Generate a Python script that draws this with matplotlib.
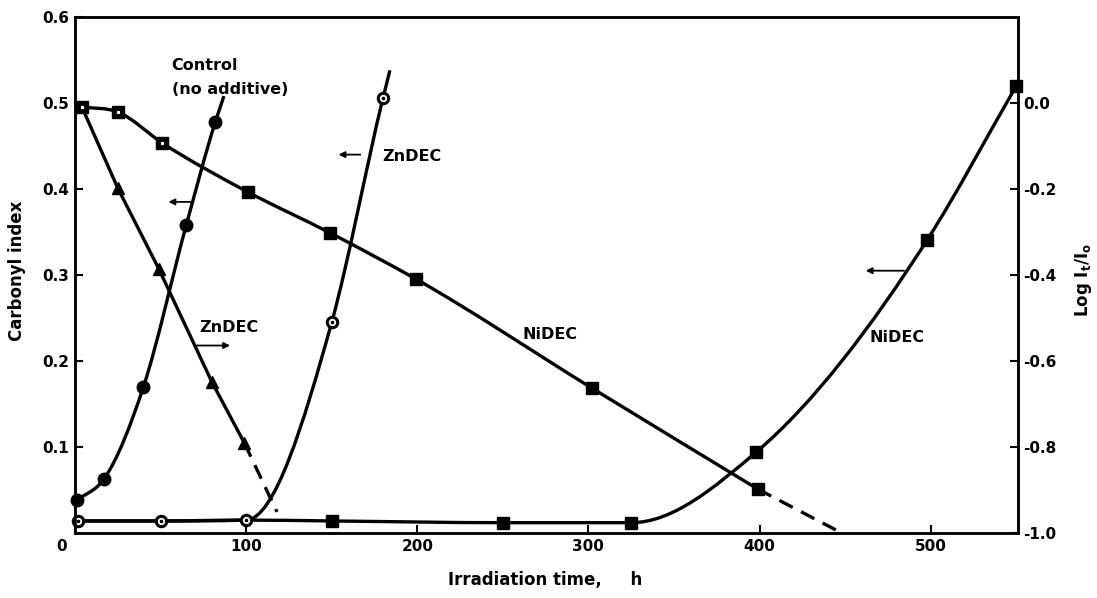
import numpy as np
import matplotlib
matplotlib.use("Agg")
import matplotlib.pyplot as plt
from matplotlib.path import Path
from matplotlib.patches import PathPatch
from matplotlib.transforms import ScaledTranslation

# ---------------- data ----------------
# Carbonyl index (left axis)
control_h = [1, 17, 40, 65, 82]
control_ci = [0.038, 0.063, 0.170, 0.358, 0.478]
control_tail_h = [87]
control_tail_ci = [0.508]

zndec_ci_h = [2, 50, 100, 150, 180]
zndec_ci = [0.014, 0.014, 0.015, 0.245, 0.506]
zndec_tail_h = [184]
zndec_tail_ci = [0.538]

nidec_ci_h = [2, 50, 100, 150, 250, 325, 398, 498, 550]
nidec_ci = [0.014, 0.014, 0.015, 0.014, 0.012, 0.012, 0.094, 0.341, 0.520]

# Log It/Io (right axis)
zndec_log_h = [4, 25, 49, 80, 99]
zndec_log = [-0.009, -0.198, -0.386, -0.649, -0.791]
zndec_extrap_h = [99, 118]
zndec_extrap = [-0.791, -0.951]

nidec_log_h = [4, 25, 51, 101, 149, 199, 302, 399]
nidec_log = [-0.009, -0.021, -0.093, -0.207, -0.302, -0.409, -0.663, -0.898]
nidec_extrap_h = [399, 448]
nidec_extrap = [-0.898, -1.0]

x_ticks = [0, 100, 200, 300, 400, 500]
left_ticks = [0.1, 0.2, 0.3, 0.4, 0.5, 0.6]
left_labels = ["0.1", "0.2", "0.3", "0.4", "0.5", "0.6"]
right_ticks = [0.0, -0.2, -0.4, -0.6, -0.8, -1.0]
right_labels = ["0.0", "-0.2", "-0.4", "-0.6", "-0.8", "-1.0"]

# ---------------- helpers ----------------
def smooth_path(x, y):
    x = np.asarray(x, float)
    y = np.asarray(y, float)
    n = len(x)
    h = np.diff(x)
    d = np.diff(y) / h
    m = np.zeros(n)
    for k in range(1, n - 1):
        if d[k - 1] * d[k] > 0:
            mk = (d[k - 1] * h[k] + d[k] * h[k - 1]) / (h[k - 1] + h[k])
            lim = 3 * min(abs(d[k - 1]), abs(d[k]))
            m[k] = np.sign(mk) * min(abs(mk), lim)
    m[0] = d[0]
    m[-1] = d[-1]
    verts = [(x[0], y[0])]
    codes = [Path.MOVETO]
    for i in range(n - 1):
        dx = x[i + 1] - x[i]
        verts += [(x[i] + dx / 3, y[i] + m[i] * dx / 3),
                  (x[i + 1] - dx / 3, y[i + 1] - m[i + 1] * dx / 3),
                  (x[i + 1], y[i + 1])]
        codes += [Path.CURVE4] * 3
    return Path(verts, codes)


def draw_curve(axis, x, y, lw=2.4, **kw):
    p = PathPatch(smooth_path(x, y), transform=axis.transData, fill=False,
                  lw=lw, ec="black", capstyle="butt", joinstyle="round", **kw)
    axis.add_patch(p)

# ---------------- figure ----------------
plt.rcParams["font.family"] = ["DejaVu Sans"]
plt.rcParams["mathtext.fontset"] = "dejavusans"

fig = plt.figure(figsize=(10.97, 5.98), dpi=100)
ax = fig.add_axes([0.06837, 0.10870, 0.85962, 0.86287])
ax2 = ax.twinx()

ax.set_xlim(0, 551)
ax.set_ylim(0, 0.6)
ax2.set_ylim(-1.0, 0.2)

for a in (ax, ax2):
    for s in a.spines.values():
        s.set_linewidth(1.8)

ax.set_xticks(x_ticks)
ax.set_xticklabels([str(t) for t in x_ticks])
ax.set_yticks(left_ticks)
ax.set_yticklabels(left_labels)
ax2.set_yticks(right_ticks)
ax2.set_yticklabels(right_labels)
ax.tick_params(direction="in", length=6, width=1.5, labelsize=11, pad=4)
ax2.tick_params(direction="in", length=6, width=1.5, labelsize=11, pad=4)
for lab in ax.get_xticklabels() + ax.get_yticklabels() + ax2.get_yticklabels():
    lab.set_fontweight("bold")
ax.get_xticklabels()[0].set_transform(
    ax.get_xticklabels()[0].get_transform()
    + ScaledTranslation(-10 / 72, 0, fig.dpi_scale_trans))

# ---- carbonyl index curves (left axis) ----
draw_curve(ax, control_h + control_tail_h, control_ci + control_tail_ci)
ax.plot(control_h, control_ci, ls="none", marker="o", ms=9, mfc="black",
        mec="black", zorder=5, clip_on=False)

draw_curve(ax, nidec_ci_h, nidec_ci)
ax.plot(nidec_ci_h[3:], nidec_ci[3:], ls="none", marker="s", ms=8.5,
        mfc="black", mec="black", zorder=5, clip_on=False)

draw_curve(ax, zndec_ci_h + zndec_tail_h, zndec_ci + zndec_tail_ci)
ax.plot(zndec_ci_h, zndec_ci, ls="none", marker="o", ms=7.5, mfc="white",
        mec="black", mew=2.2, zorder=6, clip_on=False)
ax.plot(zndec_ci_h, zndec_ci, ls="none", marker="o", ms=1.6, mfc="black",
        mec="black", zorder=7, clip_on=False)

# ---- log It/Io curves (right axis) ----
ax2.plot(zndec_log_h, zndec_log, color="black", lw=2.4, solid_capstyle="butt")
ax2.plot(zndec_log_h[1:], zndec_log[1:], ls="none", marker="^", ms=9,
         mfc="black", mec="black", zorder=5)
ax2.plot(zndec_extrap_h, zndec_extrap, color="black", lw=2.4,
         ls=(0, (4.5, 2.8)))

draw_curve(ax2, nidec_log_h, nidec_log)
ax2.plot(nidec_log_h, nidec_log, ls="none", marker="s", ms=8.5,
         mfc="black", mec="black", zorder=5)
ax2.plot(nidec_log_h[:3], nidec_log[:3], ls="none", marker="s", ms=1.3,
         mfc="white", mec="white", zorder=6)
ax2.plot(nidec_extrap_h, nidec_extrap, color="black", lw=2.4,
         ls=(0, (4.5, 2.8)))

# ---- annotations ----
tkw = dict(fontsize=11.5, fontweight="bold", color="black")
ax.text(56.5, 0.544, "Control", ha="left", va="center", **tkw)
ax.text(56.5, 0.516, "(no additive)", ha="left", va="center", **tkw)
ax.text(179.4, 0.4376, "ZnDEC", ha="left", va="center", **tkw)
ax.text(72.7, 0.239, "ZnDEC", ha="left", va="center", **tkw)
ax.text(261.2, 0.231, "NiDEC", ha="left", va="center", **tkw)
ax.text(464.5, 0.227, "NiDEC", ha="left", va="center", **tkw)

akw = dict(arrowstyle="-|>", lw=1.3, color="black", mutation_scale=9,
           shrinkA=0, shrinkB=0)
ax.annotate("", xy=(54.6, 0.385), xytext=(68.2, 0.385), arrowprops=akw)
ax.annotate("", xy=(154.0, 0.44), xytext=(166.7, 0.44), arrowprops=akw)
ax.annotate("", xy=(90.6, 0.218), xytext=(71.2, 0.218), arrowprops=akw)
ax.annotate("", xy=(462.0, 0.305), xytext=(484.4, 0.305), arrowprops=akw)

# ---- axis labels ----
lkw = dict(fontsize=12, fontweight="bold", ha="center", va="center")
fig.text(17.5 / 1097, 1 - 271 / 598, "Carbonyl index", rotation=90, **lkw)
fig.text(545 / 1097, 1 - 580 / 598, "Irradiation time,     h", **lkw)
fig.text(1084 / 1097, 1 - 280 / 598,
         r"Log I$_\mathbf{t}$/I$_\mathbf{o}$", rotation=90, **lkw)

fig.savefig("out.png", dpi=100)
